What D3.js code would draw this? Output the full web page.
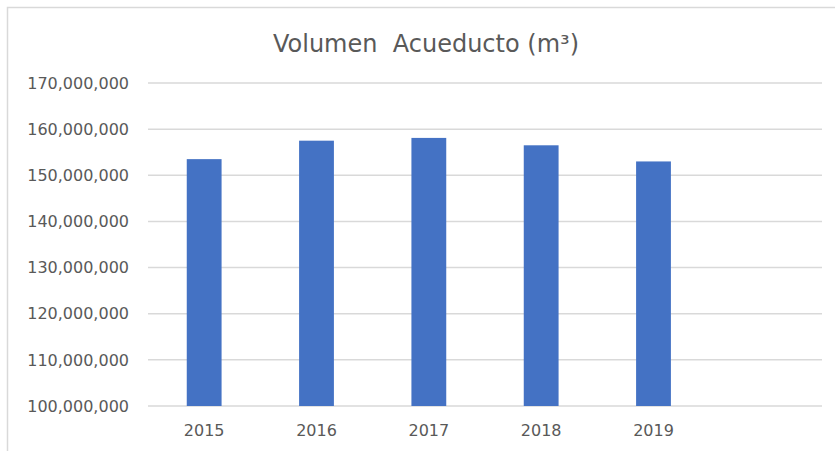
<!DOCTYPE html>
<html>
<head>
<meta charset="utf-8">
<script src="https://cdn.jsdelivr.net/npm/d3@7"></script>
<style>
  body { margin: 0; background: #fff; }
  svg { display: block; }
  .tick-label { font-family: "DejaVu Sans", sans-serif; font-size: 16px; fill: #595959; }
  .title { font-family: "DejaVu Sans", sans-serif; font-size: 24px; fill: #595959; }
</style>
</head>
<body>
<div id="chart"></div>
<script>
// Volumen Acueducto (m3) - column chart

// Categories (the last slot is an empty Excel category)
const years = ['2015', '2016', '2017', '2018', '2019', ''];

// Volume per year, m3
const volumes = [153500000, 157500000, 158100000, 156500000, 153000000, null];

// Y axis ticks
const yTicks = [100000000, 110000000, 120000000, 130000000, 140000000, 150000000, 160000000, 170000000];

const width = 835;
const height = 451;
const plot = { left: 148, right: 822, top: 83, bottom: 406 };

const svg = d3.select('#chart')
  .append('svg')
  .attr('width', width)
  .attr('height', height);

// Chart area border
svg.append('rect')
  .attr('x', 7.5)
  .attr('y', 7.5)
  .attr('width', width + 10)
  .attr('height', height + 10)
  .attr('fill', 'none')
  .attr('stroke', '#d9d9d9')
  .attr('stroke-width', 1.5);

// Title
svg.append('text')
  .attr('class', 'title')
  .attr('x', 426)
  .attr('y', 52)
  .attr('text-anchor', 'middle')
  .attr('xml:space', 'preserve')
  .text('Volumen  Acueducto (m³)');

const x = d3.scaleBand()
  .domain(years)
  .range([plot.left, plot.right])
  .paddingInner(0.69)
  .paddingOuter(0.345);

const y = d3.scaleLinear()
  .domain([d3.min(yTicks), d3.max(yTicks)])
  .range([plot.bottom, plot.top]);

const fmt = d3.format(',');

// Gridlines
svg.append('g')
  .selectAll('line')
  .data(yTicks)
  .enter()
  .append('line')
  .attr('x1', plot.left)
  .attr('x2', plot.right)
  .attr('y1', d => y(d))
  .attr('y2', d => y(d))
  .attr('stroke', '#d9d9d9')
  .attr('stroke-width', 1.5);

// Y labels
svg.append('g')
  .selectAll('text')
  .data(yTicks)
  .enter()
  .append('text')
  .attr('class', 'tick-label')
  .attr('x', 129)
  .attr('y', d => y(d))
  .attr('dy', '0.36em')
  .attr('text-anchor', 'end')
  .text(d => fmt(d));

// Bars
svg.append('g')
  .selectAll('rect')
  .data(years.map((yr, i) => ({ yr, v: volumes[i] })).filter(d => d.v != null))
  .enter()
  .append('rect')
  .attr('x', d => x(d.yr))
  .attr('width', x.bandwidth())
  .attr('y', d => y(d.v))
  .attr('height', d => y(y.domain()[0]) - y(d.v))
  .attr('fill', '#4472c4');

// X labels
svg.append('g')
  .selectAll('text')
  .data(years.filter(d => d))
  .enter()
  .append('text')
  .attr('class', 'tick-label')
  .attr('x', d => x(d) + x.bandwidth() / 2)
  .attr('y', 436)
  .attr('text-anchor', 'middle')
  .text(d => d);
</script>
</body>
</html>
